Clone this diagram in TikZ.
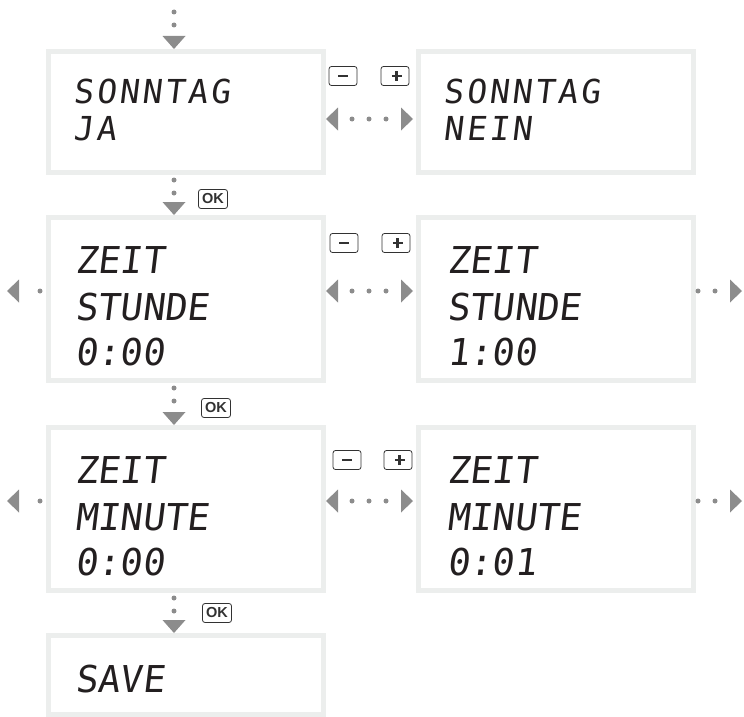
\documentclass[tikz,border=0pt]{standalone}
\usepackage{fontspec}
\setmainfont{Liberation Sans}
\newfontfamily\lcdfont[FakeSlant=0.12]{DejaVu Sans Mono}
\newfontfamily\lcdwide[FakeSlant=0.12,LetterSpace=9]{DejaVu Sans Mono}
\usetikzlibrary{arrows.meta}
\definecolor{framegray}{RGB}{236,238,237}
\definecolor{arrowgray}{RGB}{140,140,140}
\definecolor{ink}{RGB}{35,31,32}
\definecolor{btnink}{RGB}{50,50,50}
\newcommand\btnminus{\rule{10pt}{2.8pt}}
\newcommand\btnplus{\rlap{\rule[3.6pt]{10pt}{2.8pt}}\hspace{3.6pt}\rule{2.8pt}{10pt}\hspace{3.6pt}}
\begin{document}
\begin{tikzpicture}[x=1pt,y=-1pt,
  screen/.style={draw=framegray, line width=5pt, fill=white, inner sep=0pt, outer sep=2.5pt, minimum width=275pt},
  lcdbig/.style={anchor=base west, inner sep=0pt, text=ink, font=\lcdfont\fontsize{37}{37}\selectfont},
  lcdsmall/.style={anchor=base west, inner sep=0pt, text=ink, font=\lcdwide\fontsize{33}{33}\selectfont},
  btn/.style={draw=btnink, line width=0.8pt, rounded corners=2.5pt, fill=white, minimum width=28pt, minimum height=19pt, inner sep=0pt, text=btnink},
  okbtn/.style={btn, minimum width=29pt, font=\bfseries\fontsize{14.5}{14.5}\selectfont},
  vconn/.style={draw=arrowgray, line width=5pt, line cap=round, dash pattern=on 0pt off 13pt, -{Triangle[length=13pt,width=23pt,line width=0pt]}},
  hconn/.style={draw=arrowgray, line width=5pt, line cap=round, dash pattern=on 0pt off 17pt, {Triangle[length=12pt,width=23pt,line width=0pt]}-{Triangle[length=12pt,width=23pt,line width=0pt]}},
  sideconn/.style={draw=arrowgray, line width=5pt, line cap=round, -{Triangle[length=12pt,width=23pt,line width=0pt]}},
]
\useasboundingbox (0,0) rectangle (744,717);

% screens
\node[screen, minimum height=121pt] (b1) at (186,112) {};
\node[screen, minimum height=121pt] (b2) at (556,112) {};
\node[screen, minimum height=163pt] (b3) at (186,299) {};
\node[screen, minimum height=163pt] (b4) at (556,299) {};
\node[screen, minimum height=163pt] (b5) at (186,509) {};
\node[screen, minimum height=163pt] (b6) at (556,509) {};
\node[screen, minimum height=79pt] (b7) at (186,675) {};

% display texts
\node[lcdsmall] (t1a) at (73,103) {SONNTAG};
\node[lcdsmall] (t1b) at (73,140) {JA};
\node[lcdsmall] (t2a) at (443,103) {SONNTAG};
\node[lcdsmall] (t2b) at (443,140) {NEIN};
\node[lcdbig] (t3a) at (75,273) {ZEIT};
\node[lcdbig] (t3b) at (75,320) {STUNDE};
\node[lcdbig] (t3c) at (75,365) {0:00};
\node[lcdbig] (t4a) at (447,273) {ZEIT};
\node[lcdbig] (t4b) at (447,320) {STUNDE};
\node[lcdbig] (t4c) at (447,365) {1:00};
\node[lcdbig] (t5a) at (75,483) {ZEIT};
\node[lcdbig] (t5b) at (75,530) {MINUTE};
\node[lcdbig] (t5c) at (75,575) {0:00};
\node[lcdbig] (t6a) at (447,483) {ZEIT};
\node[lcdbig] (t6b) at (447,530) {MINUTE};
\node[lcdbig] (t6c) at (447,575) {0:01};
\node[lcdbig] (t7a) at (75,692) {SAVE};

% buttons
\node[btn] (m1) at (343,76) {\btnminus};
\node[btn] (p1) at (395,76) {\btnplus};
\node[btn] (m2) at (344,243) {\btnminus};
\node[btn] (p2) at (396,243) {\btnplus};
\node[btn] (m3) at (347,460) {\btnminus};
\node[btn] (p3) at (398,460) {\btnplus};
\node[okbtn] (ok1) at (213,199) {OK};
\node[okbtn] (ok2) at (216,408) {OK};
\node[okbtn] (ok3) at (217,613) {OK};

% vertical connectors
\coordinate (top) at (174,0);
\draw[vconn, dash phase=1pt] (top) -- ([xshift=-12pt]b1.north);
\draw[vconn, dash phase=8pt] ([xshift=-12pt]b1.south) -- ([xshift=-12pt]b3.north);
\draw[vconn, dash phase=8pt] ([xshift=-12pt]b3.south) -- ([xshift=-12pt]b5.north);
\draw[vconn, dash phase=8pt] ([xshift=-12pt]b5.south) -- ([xshift=-12pt]b7.north);

% horizontal connectors
\draw[hconn, dash phase=3pt, shorten >=3pt] ([yshift=-7pt]b1.east) -- ([yshift=-7pt]b2.west);
\draw[hconn, dash phase=3pt, shorten >=3pt] ([yshift=8pt]b3.east) -- ([yshift=8pt]b4.west);
\draw[hconn, dash phase=3pt, shorten >=3pt] ([yshift=8pt]b5.east) -- ([yshift=8pt]b6.west);

% side stubs
\coordinate (l3) at (7,291);
\coordinate (r4) at (742,291);
\coordinate (l5) at (7,501);
\coordinate (r6) at (742,501);
\draw[sideconn, dash pattern=on 0pt off 30pt, dash phase=24pt] ([yshift=8pt]b3.west) -- (l3);
\draw[sideconn, dash pattern=on 0pt off 17pt, dash phase=15pt] ([yshift=8pt]b4.east) -- (r4);
\draw[sideconn, dash pattern=on 0pt off 30pt, dash phase=24pt] ([yshift=8pt]b5.west) -- (l5);
\draw[sideconn, dash pattern=on 0pt off 17pt, dash phase=15pt] ([yshift=8pt]b6.east) -- (r6);
\end{tikzpicture}
\end{document}
